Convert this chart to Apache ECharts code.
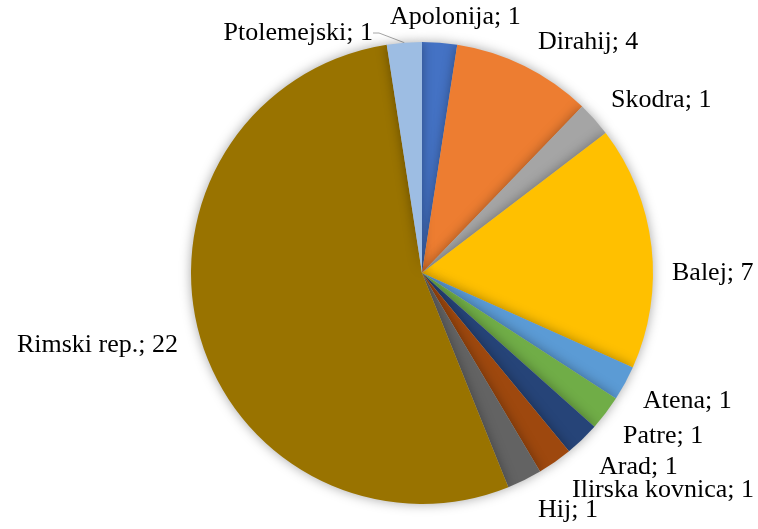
<!DOCTYPE html>
<html>
<head>
<meta charset="utf-8">
<script src="https://cdn.jsdelivr.net/npm/echarts@6/dist/echarts.min.js"></script>
<style>
  html, body { margin: 0; padding: 0; background: #fff; }
  #chart { width: 758px; height: 529px; }
</style>
</head>
<body>
<div id="chart"></div>
<script>
// kovnice, redom od vrha u smjeru kazaljke
var names = ['Apolonija', 'Dirahij', 'Skodra', 'Balej', 'Atena', 'Patre', 'Arad', 'Ilirska kovnica', 'Hij', 'Rimski rep.', 'Ptolemejski'];
var counts = [1, 4, 1, 7, 1, 1, 1, 1, 1, 22, 1];
var colors = ['#4472C4', '#ED7D31', '#A5A5A5', '#FFC000', '#5B9BD5', '#70AD47', '#264478', '#9E480E', '#636363', '#997300', '#9DBDE3'];

// ručno razmještene oznake kao u Excelu: [x, y, poravnanje]
var labelSpots = [
  [390, 17, 'left'], [538, 42, 'left'], [611, 100, 'left'], [672, 273, 'left'],
  [643, 401, 'left'], [623, 436, 'left'], [599, 467, 'left'], [572, 490, 'left'],
  [538, 510, 'left'], [178, 345, 'right'], [373, 33, 'right']
];

var chart = echarts.init(document.getElementById('chart'));

var items = names.map(function (n, i) {
  var d = { name: n, value: counts[i], itemStyle: { color: colors[i] } };
  if (n === 'Ptolemejski') {
    d.labelLine = { show: true, lineStyle: { color: '#A6A6A6', width: 1 } };
  }
  return d;
});

chart.setOption({
  animation: false,
  series: [{
    type: 'pie',
    center: [422, 273],
    radius: 231,
    startAngle: 90,
    clockwise: true,
    avoidLabelOverlap: false,
    data: items,
    itemStyle: {
      borderWidth: 0,
      shadowBlur: 12,
      shadowColor: 'rgba(0,0,0,0.35)'
    },
    label: {
      show: true,
      position: 'outside',
      formatter: '{b}; {c}',
      color: '#000',
      fontFamily: 'Liberation Serif',
      fontSize: 26,
      overflow: 'none'
    },
    labelLine: {
      show: false,
      length: 2,
      length2: 6
    },
    labelLayout: function (p) {
      var s = labelSpots[p.dataIndex];
      return { x: s[0], y: s[1], align: s[2], verticalAlign: 'middle' };
    }
  }]
});
</script>
</body>
</html>
